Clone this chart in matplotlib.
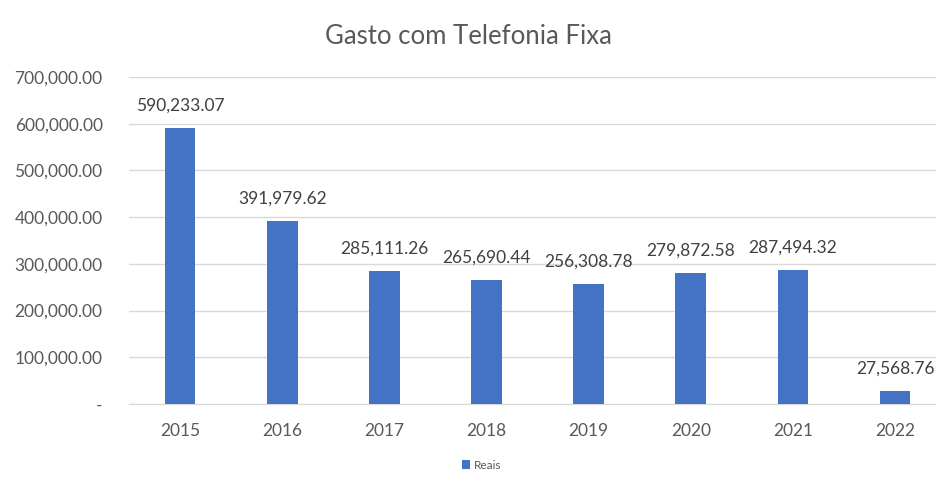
import numpy as np
import matplotlib.pyplot as plt
from matplotlib.ticker import FuncFormatter

# annual fixed-line phone spending (R$)
years = ["2015", "2016", "2017", "2018", "2019", "2020", "2021", "2022"]
reais = [590233.07, 391979.62, 285111.26, 265690.44, 256308.78, 279872.58, 287494.32, 27568.76]

plt.rcParams["font.family"] = ["Lato", "DejaVu Sans"]
text_col = "#595959"

fig = plt.figure(figsize=(9.37, 4.83), dpi=100)
ax = fig.add_axes([0.1377, 0.1636, 0.872, 0.677])

x = np.arange(len(years))
bars = ax.bar(x, reais, width=0.3, color="#4472C4", label="Reais", zorder=3)

for xi, v in zip(x, reais):
    ax.annotate(f"{v:,.2f}", (xi, v), xytext=(0, 16), textcoords="offset points",
                ha="center", va="center", fontsize=12.5, color="#404040",
                annotation_clip=False)

ax.set_xlim(-0.5, len(years) - 0.5)
ax.set_ylim(0, 700000)
ax.set_yticks(np.arange(0, 700001, 100000))
ax.yaxis.set_major_formatter(FuncFormatter(lambda v, p: "-" if v == 0 else f"{v:,.2f}"))
ax.set_xticks(x)
ax.set_xticklabels(years)
ax.tick_params(axis="both", length=0, labelsize=12.5, labelcolor=text_col)
ax.tick_params(axis="y", pad=19)
ax.tick_params(axis="x", pad=14)

ax.grid(axis="y", color="#d9d9d9", linewidth=1, zorder=0)
for s in ["top", "right", "left"]:
    ax.spines[s].set_visible(False)
ax.spines["bottom"].set_color("#d9d9d9")

fig.text(0.5, 0.925, "Gasto com Telefonia Fixa", ha="center", va="center",
         fontsize=18.5, color=text_col)
fig.legend(handles=[bars], labels=["Reais"], loc="center", bbox_to_anchor=(0.514, 0.037),
           frameon=False, fontsize=8.5, handlelength=0.7, handleheight=0.7,
           handletextpad=0.3, labelcolor=text_col)

fig.savefig("out.png", dpi=100)
